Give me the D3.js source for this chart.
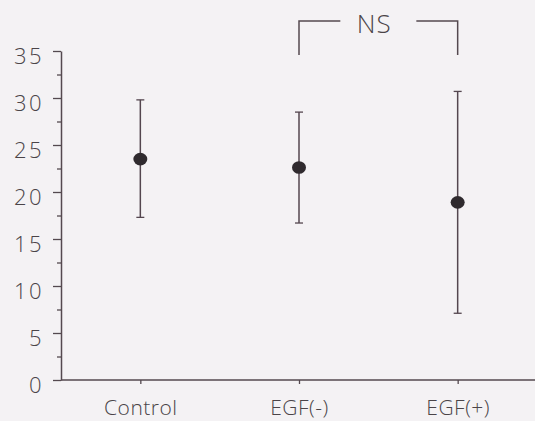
<!DOCTYPE html>
<html>
<head>
<meta charset="utf-8">
<script src="https://cdn.jsdelivr.net/npm/d3@7"></script>
<style>
  html, body { margin: 0; padding: 0; background: #f4f2f4; }
  svg { display: block; }
  text { font-family: "Open Sans", "Noto Sans", "DejaVu Sans", sans-serif; fill: #4a4448; }
</style>
</head>
<body>
<svg id="chart" width="535" height="421"></svg>
<script>
// ---- data ----
const categories = ["Control", "EGF(-)", "EGF(+)"];
const means = [23.5, 22.6, 18.9];
const upper = [29.8, 28.5, 30.7];
const lower = [17.3, 16.7, 7.1];
const yTicks = [0, 5, 10, 15, 20, 25, 30, 35];
const yMinorTicks = [2.5, 7.5, 12.5, 17.5, 22.5, 27.5, 32.5];
const bracketPair = ["EGF(-)", "EGF(+)"];
const bracketLabel = "NS";

// ---- layout ----
const svg = d3.select("#chart");
const axisColor = "#54494f";
const textColor = "#423c41";
const x = d3.scalePoint().domain(categories).range([61, 537]).padding(0.5);
const y = d3.scaleLinear().domain([0, 35]).range([380, 51]);

// y axis minor ticks
svg.append("g")
  .attr("transform", "translate(61,0)")
  .call(d3.axisLeft(y).tickValues(yMinorTicks).tickSize(4).tickFormat(""))
  .call(g => g.select(".domain").remove())
  .call(g => g.selectAll("line").attr("stroke", axisColor).attr("stroke-width", 1.3));

// y axis major
const yAxis = svg.append("g")
  .attr("transform", "translate(61,0)")
  .call(d3.axisLeft(y).tickValues(yTicks).tickSize(8).tickSizeOuter(0).tickPadding(9));
yAxis.select(".domain").attr("stroke", axisColor).attr("stroke-width", 1.5);
yAxis.selectAll(".tick line").attr("stroke", axisColor).attr("stroke-width", 1.3);
yAxis.selectAll(".tick text")
  .attr("font-size", 22).attr("dy", "0.55em")
  .attr("font-weight", 300)
  .style("letter-spacing", "2.5px")
  .attr("fill", textColor);

// x axis
const xAxis = svg.append("g")
  .attr("transform", "translate(0,380)")
  .call(d3.axisBottom(x).tickSize(4).tickSizeOuter(0).tickPadding(16));
xAxis.select(".domain").attr("stroke", axisColor).attr("stroke-width", 1.5)
  .attr("d", "M61,0H535");
xAxis.selectAll(".tick line").attr("stroke", axisColor).attr("stroke-width", 1.3);
xAxis.selectAll(".tick text")
  .attr("font-size", 21)
  .attr("font-weight", 300)
  .style("letter-spacing", "0.5px")
  .attr("fill", textColor);

// error bars
const rows = categories.map((c, i) => ({c, m: means[i], hi: upper[i], lo: lower[i]}));
const eb = svg.append("g").selectAll("g").data(rows).join("g");
eb.append("line")
  .attr("x1", d => x(d.c)).attr("x2", d => x(d.c))
  .attr("y1", d => y(d.hi)).attr("y2", d => y(d.lo))
  .attr("stroke", "#54464f").attr("stroke-width", 1.5);
eb.append("line")
  .attr("x1", d => x(d.c) - 4).attr("x2", d => x(d.c) + 4)
  .attr("y1", d => y(d.hi)).attr("y2", d => y(d.hi))
  .attr("stroke", "#54464f").attr("stroke-width", 1.3);
eb.append("line")
  .attr("x1", d => x(d.c) - 4).attr("x2", d => x(d.c) + 4)
  .attr("y1", d => y(d.lo)).attr("y2", d => y(d.lo))
  .attr("stroke", "#54464f").attr("stroke-width", 1.3);
eb.append("ellipse")
  .attr("cx", d => x(d.c)).attr("cy", d => y(d.m))
  .attr("rx", 7).attr("ry", 6.3)
  .attr("fill", "#2f2a2e");

// NS bracket
const bx1 = x(bracketPair[0]), bx2 = x(bracketPair[1]);
const bTop = 21, bBottom = 55;
const mid = (bx1 + bx2) / 2;
const gap = 38;
const br = svg.append("g").attr("stroke", axisColor).attr("stroke-width", 1.5).attr("fill", "none");
br.append("path").attr("d", `M${bx1},${bBottom}V${bTop}H${mid - gap}`);
br.append("path").attr("d", `M${mid + gap},${bTop}H${bx2}V${bBottom}`);
svg.append("text")
  .attr("x", mid - 4).attr("y", 33)
  .attr("text-anchor", "middle")
  .attr("font-size", 26)
  .attr("font-weight", 300)
  .style("letter-spacing", "1px")
  .attr("fill", textColor)
  .text(bracketLabel);
</script>
</body>
</html>
